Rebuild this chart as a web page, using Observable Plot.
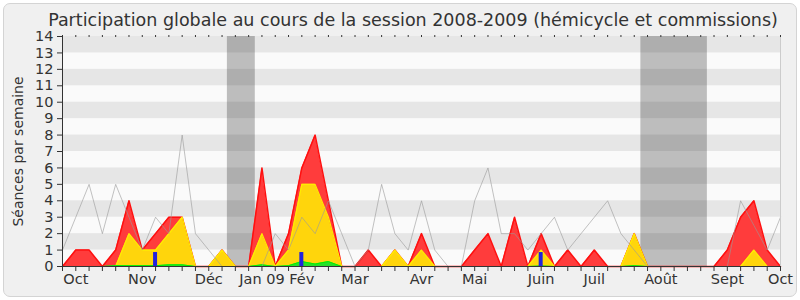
<!DOCTYPE html>
<html>
<head>
<meta charset="utf-8">
<script src="https://cdn.jsdelivr.net/npm/d3@7"></script>
<script src="https://cdn.jsdelivr.net/npm/@observablehq/plot@0.6"></script>
<style>
  html, body { margin: 0; padding: 0; background: #ffffff; }
  #wrap { position: relative; width: 800px; height: 300px; overflow: hidden; }
  #box { position: absolute; left: 3px; top: 3px; right: 3px; bottom: 3px; border: 1px solid #d4d4d4; border-radius: 7px; background: #f0f0f0; }
  #chart { position: absolute; left: 0; top: 0; }
</style>
</head>
<body>
<div id="wrap"><div id="box"></div><div id="chart"></div></div>
<script>
const title = "Participation globale au cours de la session 2008-2009 (hémicycle et commissions)";
const yLabel = "Séances par semaine";

// weekly values, week index 0..54
const total      = [0,1,1,0,1,4,1,2,3,3,0,0,1,0,0,6,0,2,6,8,4,0,0,1,0,1,0,2,0,0,0,1,2,0,3,0,2,0,1,0,1,0,0,2,0,0,0,0,0,0,1,3,4,1,0];
const commission = [0,0,0,0,0,2,1,1,2,3,0,0,1,0,0,2,0,1,5,5,3,0,0,0,0,1,0,1,0,0,0,0,0,0,0,0,1,0,0,0,0,0,0,2,0,0,0,0,0,0,0,0,1,0,0];
const hemicycle  = [0,0,0,0,0.05,0.05,0.05,0.05,0.1,0.1,0,0,0,0,0,0.1,0,0.05,0.3,0.15,0.3,0,0,0,0,0,0,0,0,0,0,0,0,0,0,0,0.03,0,0,0,0,0,0,0.05,0,0,0,0,0,0,0,0,0,0,0];
const median     = [1,3,5,2,5,3,1,3,2,8,2,1,0,0,0,0,2,1,3,2,4,2,0,1,5,2,1,4,1,0,0,4,6,2,2,1,2,3,1,2,3,4,2,1,0,0,0,0,0,0,0,4,2.5,1,3];

const questionWeeks  = [7, 18, 36];
const questionValues = [0.85, 0.85, 0.85];

const vacationStart = [12.4, 43.5];
const vacationEnd   = [14.5, 48.5];

const monthLabels = ["Oct","Nov","Déc","Jan 09","Fév","Mar","Avr","Mai","Juin","Juil","Août","Sept","Oct"];
const monthWeeks  = [1, 6, 11, 15, 18, 22, 27, 31, 36, 40, 45, 50, 54];

const yTicks = [0,1,2,3,4,5,6,7,8,9,10,11,12,13,14];
const stripeStarts = [1,3,5,7,9,11,13];

const rows = total.map((t, i) => ({w: i, total: t, commission: commission[i], hemicycle: hemicycle[i], median: median[i]}));
const weekTicks = rows.map(d => d.w);
const questions = questionWeeks.map((w, i) => ({w, v: questionValues[i]}));
const vacations = vacationStart.map((s, i) => ({s, e: vacationEnd[i]}));

const chart = Plot.plot({
  width: 800,
  height: 300,
  marginLeft: 62,
  marginRight: 20,
  marginTop: 36,
  marginBottom: 34,
  style: {background: "transparent", fontFamily: "DejaVu Sans", fontSize: "14px", color: "#333"},
  x: {domain: [0, 54], axis: null},
  y: {domain: [0, 14], axis: null},
  marks: [
    Plot.frame({fill: "#fafafa", stroke: null}),
    Plot.rect(stripeStarts, {x1: 0, x2: 54, y1: d => d, y2: d => d + 1, fill: "#e6e6e6"}),
    Plot.rect(vacations, {x1: "s", x2: "e", y1: 0, y2: 14, fill: "#000", fillOpacity: 0.245}),
    Plot.areaY(rows, {x: "w", y: "total", fill: "#ff3c3c"}),
    Plot.lineY(rows, {x: "w", y: "total", stroke: "#ff1010", strokeWidth: 1.5}),
    Plot.areaY(rows, {x: "w", y: "commission", fill: "#ffd50c"}),
    Plot.lineY(rows, {x: "w", y: "commission", stroke: "#ffec00", strokeWidth: 1.2}),
    Plot.areaY(rows, {x: "w", y: "hemicycle", fill: "#28e028"}),
    Plot.lineY(rows, {x: "w", y: "hemicycle", stroke: "#00f000", strokeWidth: 1}),
    Plot.lineY(rows, {x: "w", y: "median", stroke: "#999", strokeOpacity: 0.6, strokeWidth: 1}),
    Plot.rect(questions, {x1: d => d.w - 0.15, x2: d => d.w + 0.15, y1: 0, y2: "v", fill: "#2222dd"}),
    Plot.ruleX([54], {stroke: "#cccccc"}),
    Plot.ruleY([0], {stroke: "#333"}),
    Plot.ruleX([0], {stroke: "#333"}),
    Plot.axisY({ticks: yTicks, tickSize: 5, tickPadding: 4, label: null, fontSize: 14.5}),
    Plot.axisX({ticks: weekTicks, tickSize: 5, tickFormat: () => "", label: null}),
    Plot.axisX({anchor: "top", ticks: weekTicks, tickSize: 2, tickFormat: () => "", label: null}),
    Plot.text(monthLabels, {x: (d, i) => monthWeeks[i], frameAnchor: "bottom", dy: 17, lineAnchor: "bottom", fontSize: 14.5, fill: "#333"}),
    Plot.text([title], {frameAnchor: "top", dy: -11, dx: -8.5, lineAnchor: "bottom", fontSize: 17.5, fill: "#333"}),
    Plot.text([yLabel], {frameAnchor: "left", dx: -44, rotate: -90, textAnchor: "middle", fontSize: 14, fill: "#333"})
  ]
});
document.getElementById("chart").appendChild(chart);
</script>
</body>
</html>
